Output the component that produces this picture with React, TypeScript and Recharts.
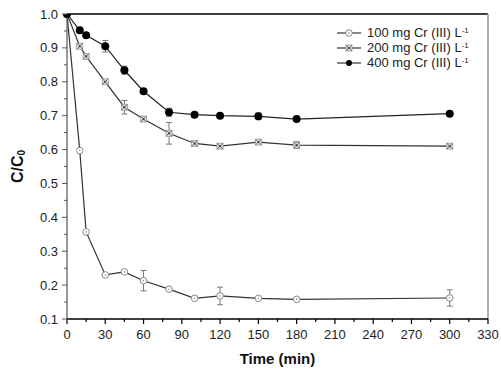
import React from 'react';
import { LineChart, Line, XAxis, YAxis, ErrorBar, ReferenceLine } from 'recharts';

const times = [0, 10, 15, 30, 45, 60, 80, 100, 120, 150, 180, 300];
const c100 = [1.0, 0.597, 0.357, 0.23, 0.239, 0.213, 0.188, 0.161, 0.168, 0.161, 0.158, 0.162];
const e100 = [null, null, null, null, null, 0.03, null, null, 0.026, null, null, 0.024];
const c200 = [1.0, 0.905, 0.875, 0.8, 0.725, 0.69, 0.648, 0.618, 0.61, 0.622, 0.613, 0.61];
const e200 = [null, null, null, null, 0.02, null, 0.032, null, null, null, 0.01, null];
const c400 = [1.0, 0.952, 0.937, 0.905, 0.834, 0.772, 0.71, 0.703, 0.7, 0.698, 0.69, 0.706];
const e400 = [null, null, null, 0.017, 0.012, null, 0.012, null, null, 0.01, null, null];

const xTicks = [0, 15, 30, 45, 60, 75, 90, 105, 120, 135, 150, 165, 180, 195, 210, 225, 240, 255, 270, 285, 300, 315, 330];
const yTicks = [0.1, 0.15, 0.2, 0.25, 0.3, 0.35, 0.4, 0.45, 0.5, 0.55, 0.6, 0.65, 0.7, 0.75, 0.8, 0.85, 0.9, 0.95, 1.0];
const seriesNames = ['100 mg Cr (III) L', '200 mg Cr (III) L', '400 mg Cr (III) L'];

const data = times.map((t, i) => {
  const row: any = { t, c100: c100[i], c200: c200[i], c400: c400[i] };
  if (e100[i] != null) row.e100 = e100[i];
  if (e200[i] != null) row.e200 = e200[i];
  if (e400[i] != null) row.e400 = e400[i];
  return row;
});

const FONT = '"Liberation Sans", Arial, sans-serif';

const XTick = (props: any) => {
  const { x, y, payload } = props;
  const v = payload.value;
  const major = Math.round(v) % 30 === 0;
  return (
    <g>
      <line x1={x} y1={y} x2={x} y2={y + (major ? 5 : 3)} stroke="#000" strokeWidth={1.2} />
      {major && (
        <text x={x} y={y + 20} textAnchor="middle" fontSize={13} fill="#222" fontFamily={FONT}>
          {v}
        </text>
      )}
    </g>
  );
};

const YTick = (props: any) => {
  const { x, y, payload } = props;
  const v = payload.value;
  const major = Math.abs(Math.round(v * 10) - v * 10) < 1e-6;
  return (
    <g>
      <line x1={x} y1={y} x2={x - (major ? 5 : 3)} y2={y} stroke="#555" strokeWidth={1} />
      {major && (
        <text x={x - 9} y={y + 4.5} textAnchor="end" fontSize={13} fill="#222" fontFamily={FONT}>
          {v.toFixed(1)}
        </text>
      )}
    </g>
  );
};

const OpenDot = (props: any) => {
  const { cx, cy } = props;
  if (cx == null || cy == null) return null;
  return (
    <g>
      <circle cx={cx} cy={cy} r={3.3} fill="#fff" stroke="#888" strokeWidth={1} />
      <circle cx={cx} cy={cy} r={0.8} fill="#888" />
    </g>
  );
};

const StarDot = (props: any) => {
  const { cx, cy } = props;
  if (cx == null || cy == null) return null;
  const s = 3;
  return (
    <g>
      <rect x={cx - s} y={cy - s} width={2 * s} height={2 * s} fill="#ddd" stroke="#999" strokeWidth={0.8} />
      <line x1={cx - s} y1={cy - s} x2={cx + s} y2={cy + s} stroke="#666" strokeWidth={0.9} />
      <line x1={cx - s} y1={cy + s} x2={cx + s} y2={cy - s} stroke="#666" strokeWidth={0.9} />
      <circle cx={cx} cy={cy} r={1} fill="#333" />
    </g>
  );
};

const FillDot = (props: any) => {
  const { cx, cy } = props;
  if (cx == null || cy == null) return null;
  return <circle cx={cx} cy={cy} r={4} fill="#000" />;
};

const markers = [
  (cx: number, cy: number) => <OpenDot cx={cx} cy={cy} />,
  (cx: number, cy: number) => <StarDot cx={cx} cy={cy} />,
  (cx: number, cy: number) => <circle cx={cx} cy={cy} r={3} fill="#000" />,
];

const LegendBox = () => (
  <div
    style={{
      position: 'absolute',
      left: 334,
      top: 25,
      fontFamily: FONT,
      fontSize: 13,
      color: '#222',
      lineHeight: '15px',
    }}
  >
    {seriesNames.map((n, i) => (
      <div key={n} style={{ display: 'flex', alignItems: 'center', height: 15 }}>
        <svg width={30} height={12} style={{ marginRight: 3 }}>
          <line x1={3} y1={6} x2={27} y2={6} stroke="#333" strokeWidth={1.2} />
          {markers[i](15, 6)}
        </svg>
        <span style={{ whiteSpace: 'nowrap' }}>
          {n}
          <sup style={{ fontSize: 8, verticalAlign: 'top', position: 'relative', top: -2 }}>-1</sup>
        </span>
      </div>
    ))}
  </div>
);

const YLabel = (props: any) => {
  const { viewBox } = props;
  const x = viewBox.x + 5;
  const y = viewBox.y + viewBox.height / 2;
  return (
    <text
      x={x}
      y={y}
      transform={`rotate(-90, ${x}, ${y})`}
      textAnchor="middle"
      dominantBaseline="central"
      fontFamily={FONT}
      fontWeight="bold"
      fontSize={16}
      fill="#111"
    >
      C/C
      <tspan fontSize={10} dy={4}>0</tspan>
    </text>
  );
};

export default function App() {
  return (
    <div style={{ position: 'absolute', left: 0, top: 0, width: 501, height: 371, background: '#fff' }}>
      <LineChart width={501} height={371} data={data} margin={{ top: 14, right: 13, left: 12, bottom: 0 }}>
        <XAxis
          dataKey="t"
          type="number"
          domain={[0, 330]}
          ticks={xTicks}
          interval={0}
          tickSize={0}
          tickMargin={0}
          tickLine={false}
          tick={<XTick />}
          axisLine={{ stroke: '#000', strokeWidth: 1.5 }}
          height={52}
          label={{
            value: 'Time (min)',
            position: 'insideBottom',
            offset: 7,
            style: { fontFamily: FONT, fontWeight: 'bold', fontSize: 15, fill: '#111' },
          }}
        />
        <YAxis
          type="number"
          domain={[0.1, 1.0]}
          ticks={yTicks}
          interval={0}
          tickSize={0}
          tickMargin={0}
          tickLine={false}
          tick={<YTick />}
          axisLine={{ stroke: '#555', strokeWidth: 1.2 }}
          width={55}
          allowDataOverflow
          label={<YLabel />}
        />
        <ReferenceLine y={1.0} stroke="#000" strokeWidth={1.5} />
        <ReferenceLine x={330} stroke="#999" strokeWidth={1.5} />
        <Line
          dataKey="c100"
          name={seriesNames[0]}
          stroke="#333"
          strokeWidth={1.2}
          dot={<OpenDot />}
          isAnimationActive={false}
        >
          <ErrorBar dataKey="e100" width={3} stroke="#777" strokeWidth={1} direction="y" />
        </Line>
        <Line
          dataKey="c200"
          name={seriesNames[1]}
          stroke="#333"
          strokeWidth={1.2}
          dot={<StarDot />}
          isAnimationActive={false}
        >
          <ErrorBar dataKey="e200" width={3} stroke="#777" strokeWidth={1} direction="y" />
        </Line>
        <Line
          dataKey="c400"
          name={seriesNames[2]}
          stroke="#222"
          strokeWidth={1.2}
          dot={<FillDot />}
          isAnimationActive={false}
        >
          <ErrorBar dataKey="e400" width={3} stroke="#777" strokeWidth={1} direction="y" />
        </Line>
      </LineChart>
      <LegendBox />
    </div>
  );
}
